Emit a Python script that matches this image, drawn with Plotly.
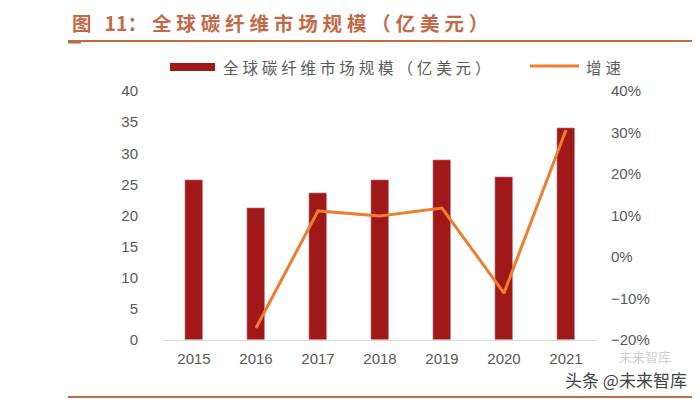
import plotly.graph_objects as go

years = ["2015", "2016", "2017", "2018", "2019", "2020", "2021"]
market_size = [25.7, 21.2, 23.6, 25.7, 28.9, 26.2, 34.1]
growth_years = ["2016", "2017", "2018", "2019", "2020", "2021"]
growth_pct = [-17.1, 11.1, 9.9, 11.8, -8.7, 30.6]
left_ticks = [0, 5, 10, 15, 20, 25, 30, 35, 40]
right_ticks = [-20, -10, 0, 10, 20, 30, 40]
right_labels = [("−" if v < 0 else "") + f"{abs(v)}%" for v in right_ticks]

OFF = 8  # page body margin
W, H = 700 - OFF, 399 - OFF
# desired plot area in screen pixels: x 163..597, y 91..340
L, R, T, B = 163 - OFF, 700 - 597, 91 - OFF, 399 - 340
PW, PH = W - L - R, H - T - B

BAR_C = "#A01818"
LINE_C = "#ED7D31"
TITLE_C = "#C26A48"
TICK_C = "#595959"
CJK = "Noto Sans CJK SC"
SP = "\u2005"


def spaced(s):
    return SP.join(list(s))


fig = go.Figure()
fig.add_trace(go.Bar(x=years, y=market_size, marker_color=BAR_C, width=0.29,
                     name="全球碳纤维市场规模（亿美元）", showlegend=False))
fig.add_trace(go.Scatter(x=growth_years, y=growth_pct, mode="lines", yaxis="y2",
                         line=dict(color=LINE_C, width=3), name="增速", showlegend=False))


def px(x):
    return (x - OFF - L) / PW


def py(y):
    return (H - B - (y - OFF)) / PH


shapes = [
    dict(type="line", xref="paper", yref="paper", x0=px(68), x1=px(700), y0=py(41), y1=py(41),
         line=dict(color=TITLE_C, width=2)),
    dict(type="line", xref="paper", yref="paper", x0=px(68), x1=px(81), y0=py(42), y1=py(42),
         line=dict(color=TITLE_C, width=3)),
    dict(type="line", xref="paper", yref="paper", x0=px(68), x1=px(700), y0=py(397), y1=py(397),
         line=dict(color=TITLE_C, width=2)),
    dict(type="rect", xref="paper", yref="paper", x0=px(170), x1=px(215), y0=py(71), y1=py(63),
         fillcolor=BAR_C, line=dict(width=0)),
    dict(type="line", xref="paper", yref="paper", x0=px(530), x1=px(579), y0=py(66), y1=py(66),
         line=dict(color=LINE_C, width=3)),
]

annotations = [
    dict(text="<b>图\u2004\u200411：" + SP + spaced("全球碳纤维市场规模（亿美元）") + "</b>",
         xref="paper", yref="paper",
         x=px(70), y=py(23), xanchor="left", yanchor="middle", showarrow=False,
         font=dict(family=CJK, size=19.5, color=TITLE_C)),
    dict(text=spaced("全球碳纤维市场规模（亿美元）"), xref="paper", yref="paper",
         x=px(221), y=py(67), xanchor="left", yanchor="middle", showarrow=False,
         font=dict(family=CJK, size=15.5, color=TICK_C)),
    dict(text=spaced("增速"), xref="paper", yref="paper",
         x=px(584), y=py(67), xanchor="left", yanchor="middle", showarrow=False,
         font=dict(family=CJK, size=15.5, color=TICK_C)),
    dict(text="未来智库", xref="paper", yref="paper",
         x=px(673), y=py(356), xanchor="right", yanchor="middle", showarrow=False,
         font=dict(family=CJK, size=13, color="#CFCFCF")),
    dict(text="头条 @未来智库", xref="paper", yref="paper",
         x=px(689), y=py(379), xanchor="right", yanchor="middle", showarrow=False,
         font=dict(family=CJK, size=17, color="#444444")),
]

fig.update_layout(
    width=W, height=H,
    margin=dict(l=L, r=R, t=T, b=B, autoexpand=False),
    paper_bgcolor="white", plot_bgcolor="white",
    showlegend=False,
    bargap=0,
    font=dict(family="Liberation Sans, Arial", size=15, color=TICK_C),
    xaxis=dict(type="category", showgrid=False, showline=True, linecolor="#D9D9D9", linewidth=1,
               ticks="", tickfont=dict(size=15, color=TICK_C), ticklabelstandoff=5),
    yaxis=dict(range=[0, 40], tickvals=left_ticks, showgrid=False, zeroline=False,
               showline=False, ticks="", tickfont=dict(size=15, color=TICK_C), ticklabelstandoff=24),
    yaxis2=dict(range=[-20, 40], tickvals=right_ticks, ticktext=right_labels, overlaying="y", side="right",
                showgrid=False, zeroline=False, showline=False, ticks="",
                tickfont=dict(size=15, color=TICK_C), ticklabelstandoff=13),
    shapes=shapes,
    annotations=annotations,
)

fig.write_html("out.html")
